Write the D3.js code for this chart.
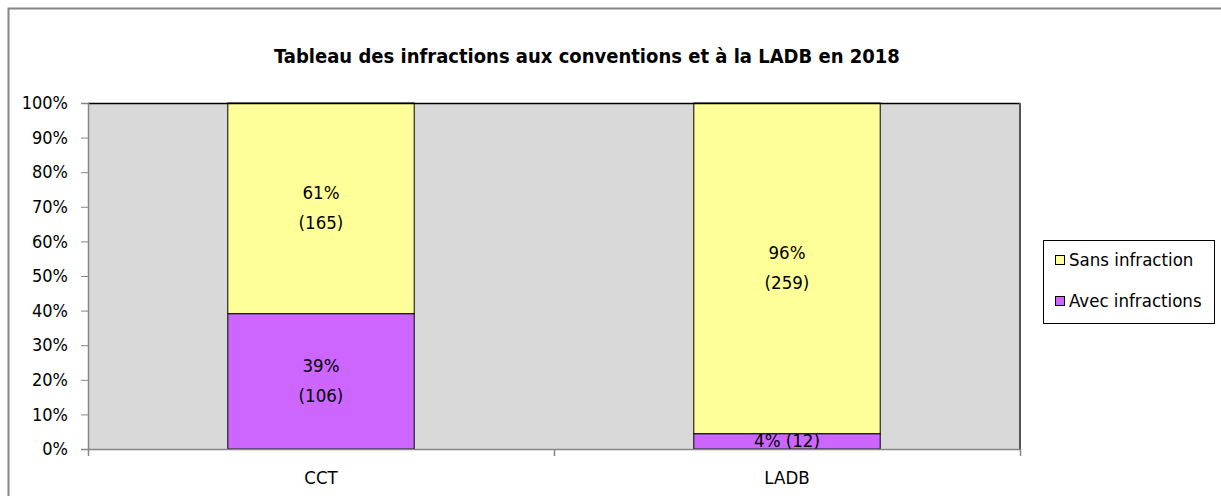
<!DOCTYPE html>
<html>
<head>
<meta charset="utf-8">
<title>Tableau des infractions</title>
<script src="https://d3js.org/d3.v7.min.js"></script>
<style>
    body { margin: 0; background: #fff; }
    svg text { font-family: 'Liberation Sans Narrow', 'DejaVu Sans Condensed', 'Noto Sans', sans-serif; fill: #000; }
    .title { font-weight: bold; font-size: 20px; }
    .tick text { font-size: 18px; }
    .lbl { font-size: 18.5px; }
</style>
</head>
<body>
<div id="chart"></div>
<script>
const categories = ['CCT', 'LADB'];
const seriesNames = ['Avec infractions', 'Sans infraction'];
const avecInfractions = [106, 12];
const sansInfraction = [165, 259];
const colors = ['#cc66ff', '#ffff99'];
const yTicks = [0, 0.1, 0.2, 0.3, 0.4, 0.5, 0.6, 0.7, 0.8, 0.9, 1];

const W = 1221, H = 496;
const plot = { left: 88, top: 103, right: 1020, bottom: 449 };

const svg = d3.select('#chart').append('svg').attr('width', W).attr('height', H);

// chart frame
svg.append('path')
    .attr('d', `M8.5,${H} V8.5 H${W}`)
    .attr('fill', 'none').attr('stroke', '#868686').attr('stroke-width', 2);

svg.append('text').attr('class', 'title')
    .attr('x', 587).attr('y', 63).attr('text-anchor', 'middle')
    .text('Tableau des infractions aux conventions et à la LADB en 2018');

const x = d3.scaleBand().domain(categories).range([plot.left, plot.right]).paddingInner(0.6).paddingOuter(0.3);
const xEdges = d3.scaleLinear().domain([0, categories.length]).range([plot.left, plot.right]);
const y = d3.scaleLinear().domain([0, 1]).range([plot.bottom, plot.top]);

svg.append('rect')
    .attr('x', plot.left).attr('y', plot.top)
    .attr('width', plot.right - plot.left).attr('height', plot.bottom - plot.top)
    .attr('fill', '#d9d9d9');

const stackData = categories.map((c, i) => {
    const total = avecInfractions[i] + sansInfraction[i];
    return { cat: c, values: [avecInfractions[i], sansInfraction[i]], total };
});

stackData.forEach(d => {
    let acc = 0;
    d.values.forEach((v, s) => {
        const y0 = acc / d.total, y1 = (acc + v) / d.total;
        acc += v;
        svg.append('rect')
            .attr('x', x(d.cat)).attr('y', y(y1))
            .attr('width', x.bandwidth()).attr('height', y(y0) - y(y1))
            .attr('fill', colors[s]).attr('stroke', '#000').attr('stroke-width', 1);
        const pct = Math.round(v / d.total * 100) + '%';
        const cx = x(d.cat) + x.bandwidth() / 2;
        const cy = (y(y0) + y(y1)) / 2;
        const t = svg.append('text').attr('class', 'lbl').attr('text-anchor', 'middle');
        if (y(y0) - y(y1) > 50) {
            t.append('tspan').attr('x', cx).attr('y', cy - 9).text(pct);
            t.append('tspan').attr('x', cx).attr('y', cy + 21).text('(' + v + ')');
        } else {
            t.attr('x', cx).attr('y', cy + 6).text(pct + ' (' + v + ')');
        }
    });
});

// plot borders
svg.append('line').attr('x1', plot.left).attr('x2', plot.right).attr('y1', plot.top + 0.5).attr('y2', plot.top + 0.5)
    .attr('stroke', '#000').attr('stroke-width', 1.5);
svg.append('line').attr('x1', plot.right).attr('x2', plot.right).attr('y1', plot.top).attr('y2', plot.bottom)
    .attr('stroke', '#555').attr('stroke-width', 2);

// y axis
const yAxis = svg.append('g').attr('transform', `translate(${plot.left},0)`)
    .call(d3.axisLeft(y).tickValues(yTicks).tickFormat(d3.format('.0%')).tickSize(7).tickPadding(13));
yAxis.select('.domain').attr('stroke', '#868686').attr('stroke-width', 1.5);
yAxis.selectAll('.tick line').attr('stroke', '#868686');

// x axis
const xAxis = svg.append('g').attr('transform', `translate(0,${plot.bottom})`)
    .call(d3.axisBottom(xEdges).tickValues(d3.range(categories.length + 1)).tickFormat('').tickSize(7).tickSizeOuter(0));
xAxis.select('.domain').attr('stroke', '#868686').attr('stroke-width', 1.5);
xAxis.selectAll('.tick line').attr('stroke', '#868686').attr('stroke-width', 1.5);
svg.append('g').selectAll('text').data(categories).join('text')
    .attr('class', 'lbl').attr('text-anchor', 'middle')
    .attr('x', d => x(d) + x.bandwidth() / 2).attr('y', 484).text(d => d);

// legend
const lg = svg.append('g').attr('transform', 'translate(1043,240)');
lg.append('rect').attr('x', 0.5).attr('y', 0.5).attr('width', 171).attr('height', 83)
    .attr('fill', '#fff').attr('stroke', '#000');
const legendOrder = [1, 0];
legendOrder.forEach((s, i) => {
    const g = lg.append('g').attr('transform', `translate(12,${20 + i * 41})`);
    g.append('rect').attr('x', 0.5).attr('y', -4.5).attr('width', 9).attr('height', 9)
        .attr('fill', colors[s]).attr('stroke', '#000');
    g.append('text').attr('class', 'lbl').attr('x', 14).attr('y', 6).text(seriesNames[s]);
});
</script>
</body>
</html>
